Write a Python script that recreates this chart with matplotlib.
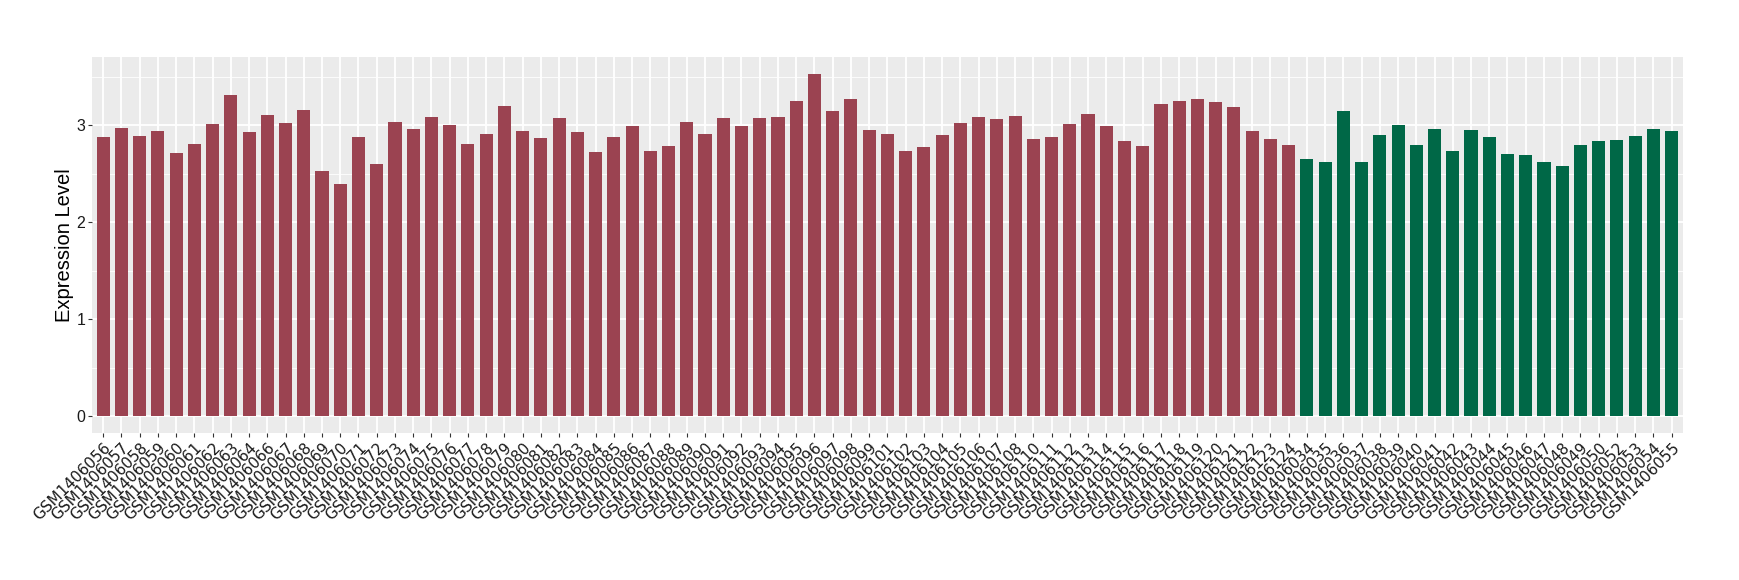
import matplotlib
matplotlib.use("Agg")
import matplotlib.pyplot as plt
import numpy as np

plt.rcParams["font.family"] = ["Liberation Sans", "DejaVu Sans"]

# tumour samples (red) then normal samples (green)
red_ids = ["056", "057", "058", "059", "060", "061", "062", "063", "064",
           "066", "067", "068", "069", "070", "071", "072", "073", "074", "075",
           "076", "077", "078", "079", "080", "081", "082", "083", "084", "085",
           "086", "087", "088", "089", "090", "091", "092", "093", "094", "095",
           "096", "097", "098", "099", "101", "102", "103", "104", "105", "106",
           "107", "108", "110", "111", "112", "113", "114", "115", "116", "117",
           "118", "119", "120", "121", "122", "123", "124"]
red_vals = [2.88, 2.97, 2.89, 2.94, 2.71, 2.81, 3.01, 3.31, 2.93,
            3.11, 3.02, 3.16, 2.53, 2.39, 2.88, 2.60, 3.03, 2.96, 3.09,
            3.00, 2.81, 2.91, 3.20, 2.94, 2.87, 3.08, 2.93, 2.72, 2.88,
            2.99, 2.74, 2.79, 3.03, 2.91, 3.08, 2.99, 3.08, 3.09, 3.25,
            3.53, 3.15, 3.27, 2.95, 2.91, 2.74, 2.78, 2.90, 3.02, 3.09,
            3.07, 3.10, 2.86, 2.88, 3.01, 3.12, 2.99, 2.84, 2.79, 3.22,
            3.25, 3.27, 3.24, 3.19, 2.94, 2.86, 2.80]
green_ids = ["034", "035", "036", "037", "038", "039", "040", "041", "042",
             "043", "044", "045", "046", "047", "048", "049", "050", "052",
             "053", "054", "055"]
green_vals = [2.65, 2.62, 3.15, 2.62, 2.90, 3.00, 2.80, 2.96, 2.74,
              2.95, 2.88, 2.70, 2.69, 2.62, 2.58, 2.80, 2.84, 2.85,
              2.89, 2.96, 2.94]

labels = ["GSM1406" + s for s in red_ids + green_ids]
values = red_vals + green_vals
colors = ["#9B4351"] * len(red_vals) + ["#006847"] * len(green_vals)

fig = plt.figure(figsize=(17.4, 5.8), dpi=100)
ax = fig.add_axes([0.053, 0.253, 0.914, 0.649])
ax.set_facecolor("#EBEBEB")

x = np.arange(1, len(values) + 1)
ax.bar(x, values, width=0.72, color=colors, zorder=3)

vmax = max(values)
ax.set_xlim(0.4, len(values) + 0.6)
ax.set_ylim(-0.05 * vmax, 1.05 * vmax)

ax.set_yticks([0, 1, 2, 3])
ax.set_yticks([0.5, 1.5, 2.5, 3.5], minor=True)
ax.set_xticks(x)
ax.set_xticklabels(labels, rotation=45, ha="right", va="top",
                   rotation_mode="anchor", fontsize=11, family="DejaVu Sans")
ax.tick_params(axis="y", labelsize=11.5, length=3, color="#333333",
               labelcolor="#1a1a1a", pad=2)
ax.tick_params(axis="x", length=3, color="#333333", labelcolor="#1a1a1a", pad=2)
ax.tick_params(which="minor", length=0)

ax.grid(which="major", color="white", linewidth=1.3, zorder=0)
ax.grid(which="minor", axis="y", color="white", linewidth=0.6, zorder=0)
for s in ax.spines.values():
    s.set_visible(False)

ax.set_ylabel("Expression Level", fontsize=14.5, labelpad=2)

fig.savefig("out.png", dpi=100)
